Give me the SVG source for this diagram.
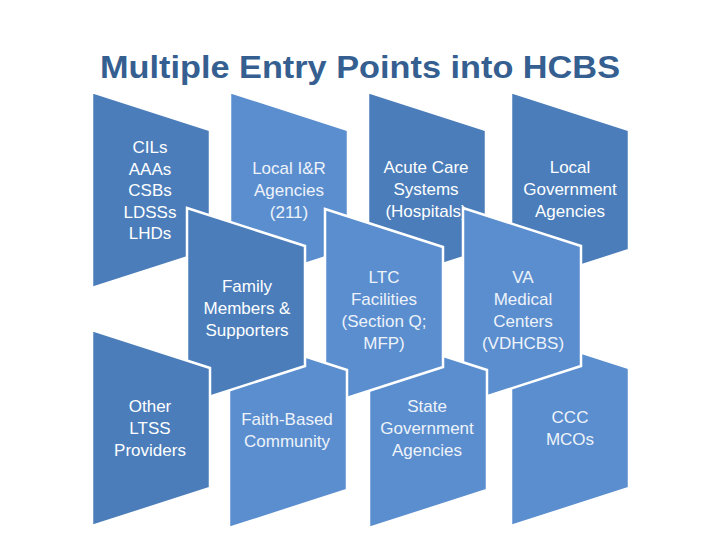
<svg xmlns="http://www.w3.org/2000/svg" width="720" height="540" viewBox="0 0 720 540">
<style>
.dk{fill:#4A7DBA;stroke:#FFFFFF;stroke-width:2.5;stroke-linejoin:miter}
.lt{fill:#5A8ECF;stroke:#FFFFFF;stroke-width:2.5;stroke-linejoin:miter}
.t{font-family:"Liberation Sans","Open Sans",Arial,sans-serif;font-size:17px;fill:#FFFFFF;text-anchor:middle}
.tl{fill:#EEF3FA}
.title{font-family:"Liberation Sans","Open Sans",Arial,sans-serif;font-size:32px;font-weight:bold;fill:#365F91;text-anchor:middle}
</style>
<rect width="720" height="540" fill="#FFFFFF"/>
<text class="title" x="360" y="78" textLength="520" lengthAdjust="spacingAndGlyphs">Multiple Entry Points into HCBS</text>

<g id="cils">
<polygon class="dk" points="92,92 210,130 210,250 92,288"/>
<text class="t" x="150"><tspan x="150" y="153">CILs</tspan><tspan x="150" y="174.5">AAAs</tspan><tspan x="150" y="196">CSBs</tspan><tspan x="150" y="217.5">LDSSs</tspan><tspan x="150" y="239">LHDs</tspan></text>
</g>
<g id="local-ir">
<polygon class="lt" points="230,92 348,130 348,250 230,288"/>
<text class="t tl"><tspan x="289" y="174">Local I&amp;R</tspan><tspan x="289" y="196">Agencies</tspan><tspan x="289" y="218">(211)</tspan></text>
</g>
<g id="acute-care">
<polygon class="dk" points="368,92 486,130 486,250 368,288"/>
<text class="t"><tspan x="426" y="173">Acute Care</tspan><tspan x="426" y="195">Systems</tspan><tspan x="426" y="217">(Hospitals)</tspan></text>
</g>
<g id="local-gov">
<polygon class="dk" points="511,92 629,130 629,250 511,288"/>
<text class="t"><tspan x="570" y="173">Local</tspan><tspan x="570" y="195">Government</tspan><tspan x="570" y="217">Agencies</tspan></text>
</g>
<g id="ccc-mcos">
<polygon class="lt" points="511,330 629,368 629,488 511,526"/>
<text class="t tl"><tspan x="570" y="423">CCC</tspan><tspan x="570" y="445">MCOs</tspan></text>
</g>
<g id="va">
<polygon class="lt" points="463,208 581,246 581,366 463,404"/>
<text class="t tl"><tspan x="523" y="283">VA</tspan><tspan x="523" y="305">Medical</tspan><tspan x="523" y="327">Centers</tspan><tspan x="523" y="349">(VDHCBS)</tspan></text>
</g>
<g id="state-gov">
<polygon class="lt" points="369,332 487,370 487,490 369,528"/>
<text class="t tl"><tspan x="427" y="412">State</tspan><tspan x="427" y="434">Government</tspan><tspan x="427" y="456">Agencies</tspan></text>
</g>
<g id="ltc">
<polygon class="lt" points="325,209 443,247 443,367 325,405"/>
<text class="t tl"><tspan x="384" y="283">LTC</tspan><tspan x="384" y="305">Facilities</tspan><tspan x="384" y="327">(Section Q;</tspan><tspan x="384" y="349">MFP)</tspan></text>
</g>
<g id="faith">
<polygon class="lt" points="229,332 347,370 347,490 229,528"/>
<text class="t tl"><tspan x="287" y="425">Faith-Based</tspan><tspan x="287" y="447">Community</tspan></text>
</g>
<g id="family">
<polygon class="dk" points="187,208 305,246 305,366 187,404"/>
<text class="t"><tspan x="247" y="292">Family</tspan><tspan x="247" y="314">Members &amp;</tspan><tspan x="247" y="336">Supporters</tspan></text>
</g>
<g id="other-ltss">
<polygon class="dk" points="92,330 210,368 210,488 92,526"/>
<text class="t"><tspan x="150" y="412">Other</tspan><tspan x="150" y="434">LTSS</tspan><tspan x="150" y="456">Providers</tspan></text>
</g>
</svg>
